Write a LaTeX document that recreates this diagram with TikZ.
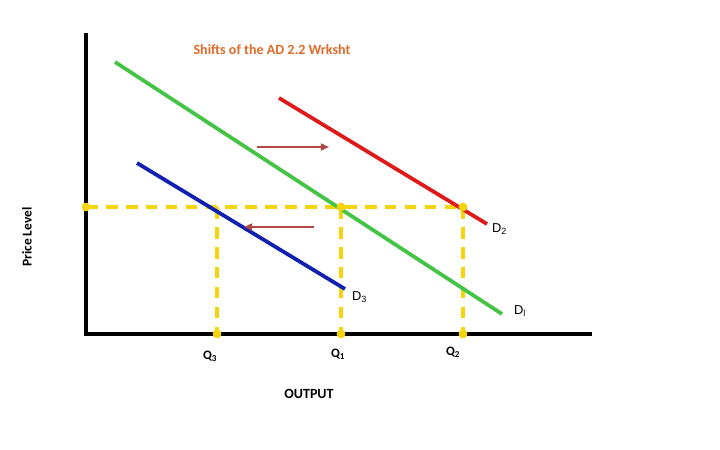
\documentclass[tikz,border=0pt]{standalone}
\usepackage{fontspec}
\setmainfont{Carlito}
\newfontfamily\arialfont{Liberation Sans}
\usetikzlibrary{arrows.meta}
\definecolor{curvegreen}{HTML}{44C444}
\definecolor{curvered}{HTML}{E01818}
\definecolor{curveblue}{HTML}{1020B0}
\definecolor{guideyellow}{HTML}{F5D50A}
\definecolor{shiftbrown}{HTML}{B04848}
\definecolor{titleorange}{HTML}{E06A2A}
\tikzset{
  axis/.style={line width=2.6pt, black},
  curve/.style={line width=3.2pt},
  guide/.style={guideyellow, line width=3.2pt, dash pattern=on 10pt off 7pt},
  dot/.style={circle, fill=guideyellow, inner sep=0pt, minimum size=7.5pt},
  shiftarrow/.style={shiftbrown, line width=1.6pt, -{Triangle[length=7pt,width=6pt]}},
  dlabel/.style={font=\arialfont\fontsize{11}{13}\selectfont, anchor=west},
  qlabel/.style={font=\bfseries\fontsize{11}{13}\selectfont}
}
\begin{document}
\begin{tikzpicture}[x=0.03cm, y=-0.03cm]
\useasboundingbox[fill=white] (0,0) rectangle (720,450);
% axes
\coordinate (top) at (86,33);
\coordinate (origin) at (86,334);
\coordinate (right) at (592,334);
% guide points
\coordinate (p0) at (86,207);
\coordinate (p3) at (217,207);
\coordinate (p1) at (341,207);
\coordinate (p2) at (463,207);
\coordinate (q3) at (217,334);
\coordinate (q1) at (341,334);
\coordinate (q2) at (463,334);
\draw[guide] (p0) -- (p2);
\draw[guide] (p3) -- (q3);
\draw[guide] (p1) -- (q1);
\draw[guide] (p2) -- (q2);
% demand curves
\coordinate (d1a) at (115,62);
\coordinate (d1b) at (502,314);
\coordinate (d2a) at (279,98);
\coordinate (d2b) at (487,224);
\coordinate (d3a) at (137,163);
\coordinate (d3b) at (345,289);
\draw[curve, curvegreen] (d1a) -- (d1b);
\draw[curve, curvered] (d2a) -- (d2b);
\draw[curve, curveblue] (d3a) -- (d3b);
\draw[axis] (top) -- (origin) -- (right);
\foreach \pt in {p0,p1,p2,q1,q2,q3}
  \node[dot] at (\pt) {};
% shift arrows
\coordinate (ra) at (257,147);
\coordinate (rb) at (329,147);
\coordinate (la) at (314,227);
\coordinate (lb) at (244,227);
\draw[shiftarrow] (ra) -- (rb);
\draw[shiftarrow] (la) -- (lb);
% labels
\node[font=\bfseries\fontsize{12}{14}\selectfont, text=titleorange] (title) at (272,50) {Shifts of the AD 2.2 Wrksht};
\node[dlabel] (labd2) at (488,229) {D\textsubscript{2}};
\node[dlabel] (labd3) at (348,297) {D\textsubscript{3}};
\node[dlabel] (labd1) at (510,311) {D\textsubscript{l}};
\node[qlabel] (labq3) at (210,356) {Q\textsubscript{3}};
\node[qlabel] (labq1) at (338,354) {Q\textsubscript{1}};
\node[qlabel] (labq2) at (453,352) {Q\textsubscript{2}};
\node[font=\bfseries\fontsize{12}{14}\selectfont] (output) at (309,394) {OUTPUT};
\node[font=\bfseries\fontsize{11.5}{13}\selectfont, rotate=90] (price) at (27,237) {Price Level};
\end{tikzpicture}
\end{document}
